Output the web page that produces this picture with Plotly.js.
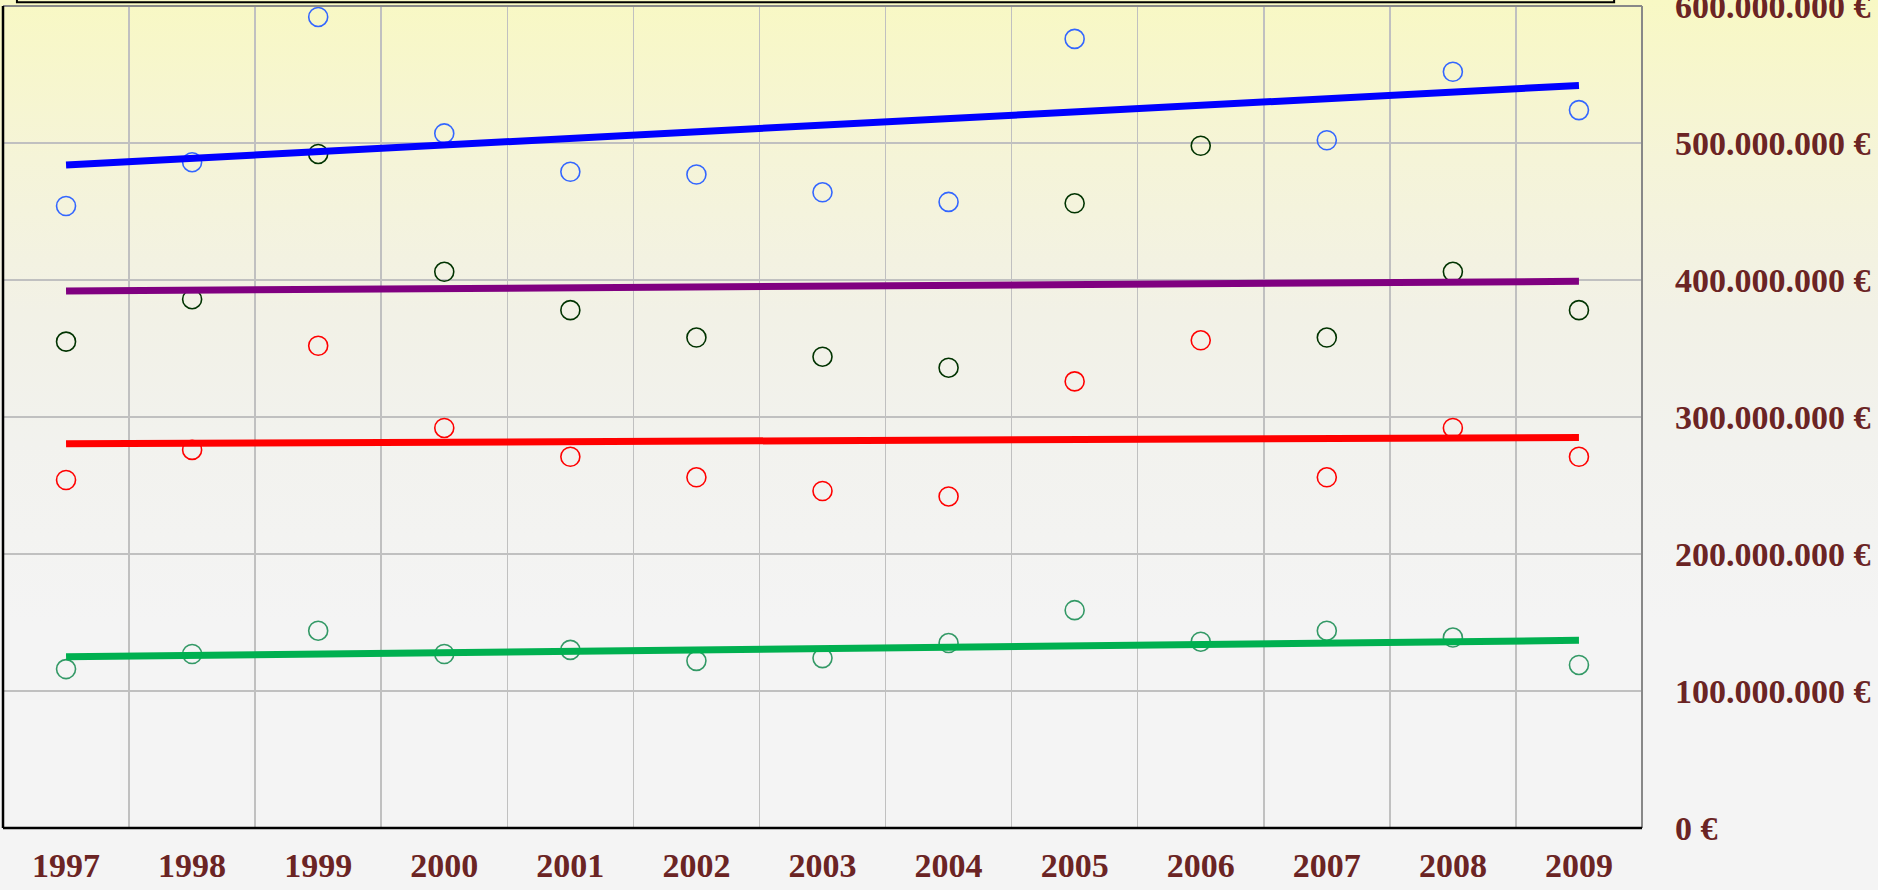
<!DOCTYPE html>
<html>
<head>
<meta charset="utf-8">
<script src="https://cdn.plot.ly/plotly-3.0.1.min.js"></script>
<style>
  html, body { margin:0; padding:0; width:1878px; height:890px; overflow:hidden;
    background: linear-gradient(to bottom, #f8f8c4 0%, #f5f4d8 18%, #f2f1e6 35%, #f2f2ee 50%, #f4f4f4 70%, #f4f4f4 100%); }
  #chart { width:1878px; height:890px; }
</style>
</head>
<body>
<div id="chart"></div>
<script>
// ---- data ----
const years = [1997,1998,1999,2000,2001,2002,2003,2004,2005,2006,2007,2008,2009];
const yearLabels = ["1997","1998","1999","2000","2001","2002","2003","2004","2005","2006","2007","2008","2009"];

const seriesBlue  = [454e6,486e6,592e6,507e6,479e6,477e6,464e6,457e6,576e6,null,502e6,552e6,524e6];
const seriesDark  = [355e6,386e6,492e6,406e6,378e6,358e6,344e6,336e6,456e6,498e6,358e6,406e6,378e6];
const seriesRed   = [254e6,276e6,352e6,292e6,271e6,256e6,246e6,242e6,326e6,356e6,256e6,292e6,271e6];
const seriesGreen = [116e6,127e6,144e6,127e6,130e6,122e6,124e6,135e6,159e6,136e6,144e6,139e6,119e6];

// trend lines: value at first and last year
const trendYears = [1997, 2009];
const trendBlue   = [484e6, 542e6];
const trendPurple = [392e6, 399e6];
const trendRed    = [280.5e6, 285e6];
const trendGreen  = [125e6, 137e6];

const yTickVals  = [0,100e6,200e6,300e6,400e6,500e6,600e6];
const yTickText  = ["0 €","100.000.000 €","200.000.000 €","300.000.000 €","400.000.000 €","500.000.000 €","600.000.000 €"];
const gridBounds = [1997.5,1998.5,1999.5,2000.5,2001.5,2002.5,2003.5,2004.5,2005.5,2006.5,2007.5,2008.5];

// ---- traces ----
function markers(y, color) {
  return { x: years, y: y, type: 'scatter', mode: 'markers', showlegend: false, hoverinfo: 'skip',
    marker: { symbol: 'circle-open', size: 19, color: color, line: { width: 1.6, color: color } } };
}
function trend(y, color) {
  return { x: trendYears, y: y, type: 'scatter', mode: 'lines', showlegend: false, hoverinfo: 'skip',
    line: { color: color, width: 7 } };
}
const data = [
  markers(seriesBlue, '#3366ff'),
  markers(seriesDark, '#003300'),
  markers(seriesRed, '#ff0000'),
  markers(seriesGreen, '#339966'),
  trend(trendBlue, '#0000ff'),
  trend(trendPurple, '#800080'),
  trend(trendRed, '#ff0000'),
  trend(trendGreen, '#00b050')
];

const tickFont = { family: 'Liberation Serif, Times New Roman, serif', size: 34, color: '#6b2424', weight: 'bold' };

const layout = {
  width: 1878, height: 890,
  margin: { l: 3, r: 236, t: 6, b: 62, pad: 0 },
  paper_bgcolor: 'rgba(0,0,0,0)',
  plot_bgcolor: 'rgba(0,0,0,0)',
  showlegend: false,
  xaxis: {
    range: [1996.5, 2009.5], tickmode: 'array', tickvals: years, ticktext: yearLabels,
    showgrid: false, zeroline: false, showline: false, ticks: '', ticklabelstandoff: 14,
    tickfont: tickFont, fixedrange: true, ticklabeloverflow: 'allow',
    minor: { tickmode: 'array', tickvals: gridBounds, showgrid: true, gridcolor: '#c0c0c0', gridwidth: 1.5, ticks: '' }
  },
  yaxis: {
    side: 'right', range: [0, 600e6], tickmode: 'array', tickvals: yTickVals, ticktext: yTickText,
    showgrid: true, gridcolor: '#c0c0c0', gridwidth: 1.5, zeroline: false, showline: false, ticks: '',
    ticklabelstandoff: 32, tickfont: tickFont, fixedrange: true, ticklabeloverflow: 'allow'
  },
  shapes: [
    // legend box (cut off at top)
    { type: 'rect', xref: 'paper', yref: 'paper', x0: 0.0085, x1: 0.9830, y0: 1.0045, y1: 1.2,
      line: { color: '#000000', width: 2 }, fillcolor: 'rgba(255,255,255,0)', layer: 'above' },
    // plot borders
    { type: 'line', xref: 'paper', yref: 'paper', x0: 0, x1: 1, y0: 1, y1: 1, line: { color: '#888888', width: 2 }, layer: 'above' },
    { type: 'line', xref: 'paper', yref: 'paper', x0: 1, x1: 1, y0: 0, y1: 1, line: { color: '#888888', width: 2 }, layer: 'above' },
    { type: 'line', xref: 'paper', yref: 'paper', x0: 0, x1: 0, y0: 0, y1: 1, line: { color: '#000000', width: 2.5 }, layer: 'above' },
    { type: 'line', xref: 'paper', yref: 'paper', x0: 0, x1: 1, y0: 0, y1: 0, line: { color: '#000000', width: 2.5 }, layer: 'above' }
  ]
};

Plotly.newPlot('chart', data, layout, { displayModeBar: false, staticPlot: true });
</script>
</body>
</html>
